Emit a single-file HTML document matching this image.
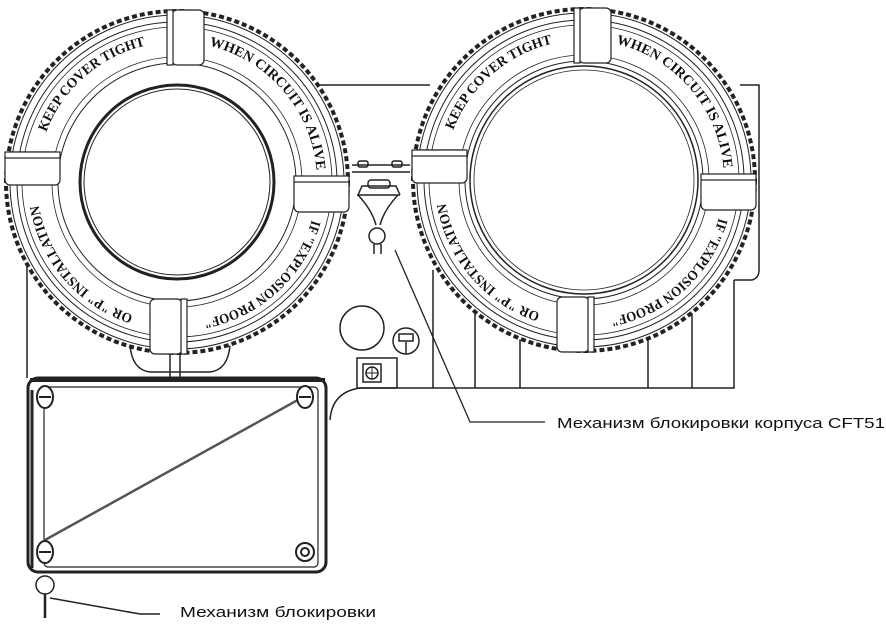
<!DOCTYPE html>
<html><head><meta charset="utf-8"><style>
html,body{margin:0;padding:0;background:#fff;}
svg{display:block}
.t{font-family:"Liberation Serif",serif;font-weight:bold;font-size:14px;fill:#111}
.l{font-family:"Liberation Sans","DejaVu Sans",sans-serif;font-size:15px;fill:#111}
</style></head><body>
<svg width="886" height="626" viewBox="0 0 886 626" xmlns="http://www.w3.org/2000/svg">
<defs>
<path id="c1" d="M37,182 A140,140 0 1 1 317,182 A140,140 0 1 1 37,182"/>
<path id="c2" d="M444,180 A140,140 0 1 1 724,180 A140,140 0 1 1 444,180"/>
<g id="ring" fill="none" stroke="#222">
  <circle r="171" stroke-width="4" stroke-dasharray="5 3"/>
  <circle r="167" stroke-width="1"/>
  <circle r="160" stroke-width="1"/>
  <circle r="155" stroke-width="0.8"/>
  <circle r="125" stroke-width="0.8"/>
  <circle r="119" stroke-width="1"/>
  <g fill="#fff" stroke-width="1.2">
    <rect x="-5" y="-172" width="32" height="55" rx="5"/>
    <rect x="-10" y="-172" width="6" height="55"/>
    <rect x="-172" y="-30" width="55" height="33" rx="5"/>
    <rect x="-172" y="-30" width="55" height="6"/>
    <rect x="117" y="-3" width="55" height="33" rx="5"/>
    <rect x="117" y="-6" width="55" height="6"/>
    <rect x="-27" y="117" width="32" height="55" rx="5"/>
    <rect x="4" y="117" width="6" height="55"/>
  </g>
</g>
</defs>
<g fill="none" stroke="#222" stroke-width="1.5">
  <path d="M300,85 H430"/>
  <path d="M740,85 H759 V270 Q759,278 752,280 H734"/>
  <path d="M27,250 V378"/>
  <path d="M433,270 V388 H734 V280"/>
  <path d="M475,290 V388 M520,330 V388 M648,330 V388 M692,300 V388"/>
  <path d="M330,420 Q332,392 360,388 H433"/>
  <circle cx="362" cy="328" r="22"/>
  <circle cx="406" cy="341" r="13"/>
  <rect x="399" y="334" width="14" height="7"/>
  <path d="M406,342 V354"/>
  <rect x="357" y="358" width="40" height="30"/>
  <rect x="363" y="364" width="18" height="18"/>
  <circle cx="372" cy="373" r="6"/>
  <path d="M372,367 V379 M366,373 H378" stroke-width="1"/>
  <path d="M358,195 Q372,210 376,225 M398,195 Q384,210 380,225"/>
  <circle cx="377" cy="236" r="8"/>
  <path d="M374,244 V254 M381,244 V254"/>
  <path d="M130,345 Q132,370 150,372 H210 Q228,370 230,345"/>
  <path d="M170,350 V378 M180,350 V378"/>
</g>
<g transform="translate(177,182)"><circle r="172" fill="#fff"/><use href="#ring"/>
<circle r="97" fill="#fff" stroke="#222" stroke-width="3"/><circle r="93" fill="none" stroke="#222" stroke-width="1"/></g>
<g transform="translate(584,180)"><circle r="172" fill="#fff"/><use href="#ring"/>
<circle r="114" fill="#fff" stroke="#222" stroke-width="1.5"/><circle r="110" fill="none" stroke="#222" stroke-width="0.8"/></g>
<g fill="none" stroke="#222" stroke-width="1.5">
  <path d="M352,165 H410 M352,172 H410 M357,195 H400"/>
  <rect x="358" y="161" width="10" height="6" rx="2"/><rect x="392" y="161" width="10" height="6" rx="2"/>
  <rect x="368" y="180" width="22" height="8" rx="3"/>
  <path d="M358,195 L362,186 H396 L400,195"/>
</g>
<text class="t"><textPath href="#c1" startOffset="51" textLength="137" lengthAdjust="spacingAndGlyphs">KEEP COVER TIGHT</textPath></text>
<text class="t"><textPath href="#c1" startOffset="252" textLength="176" lengthAdjust="spacingAndGlyphs">WHEN CIRCUIT IS ALIVE</textPath></text>
<text class="t"><textPath href="#c1" startOffset="478" textLength="155" lengthAdjust="spacingAndGlyphs">IF "EXPLOSION PROOF"</textPath></text>
<text class="t"><textPath href="#c1" startOffset="704" textLength="152" lengthAdjust="spacingAndGlyphs">OR "P" INSTALLATION</textPath></text>
<text class="t"><textPath href="#c2" startOffset="51" textLength="137" lengthAdjust="spacingAndGlyphs">KEEP COVER TIGHT</textPath></text>
<text class="t"><textPath href="#c2" startOffset="252" textLength="176" lengthAdjust="spacingAndGlyphs">WHEN CIRCUIT IS ALIVE</textPath></text>
<text class="t"><textPath href="#c2" startOffset="478" textLength="155" lengthAdjust="spacingAndGlyphs">IF "EXPLOSION PROOF"</textPath></text>
<text class="t"><textPath href="#c2" startOffset="704" textLength="152" lengthAdjust="spacingAndGlyphs">OR "P" INSTALLATION</textPath></text>
<g fill="none" stroke="#222">
  <rect x="28" y="378" width="298" height="194" rx="10" stroke-width="3"/>
  <rect x="44" y="387" width="274" height="180" rx="4" stroke-width="1.2"/>
  <path d="M30,380 H325" stroke-width="4"/>
  <path d="M32,390 V568" stroke-width="3"/>
  <path d="M305,396 L45,540" stroke-width="2.5" stroke="#555"/>
  <g stroke-width="2" fill="#fff">
    <ellipse cx="45" cy="397" rx="8" ry="11"/><ellipse cx="305" cy="397" rx="8" ry="11"/>
    <ellipse cx="45" cy="552" rx="8" ry="11"/><circle cx="305" cy="552" r="9"/><circle cx="305" cy="552" r="4"/>
  </g>
  <path d="M39,397 H51 M299,397 H311 M39,552 H51" stroke-width="2"/>
  <circle cx="45" cy="585" r="9" stroke-width="1.5"/>
  <path d="M45,594 V618" stroke-width="2.5"/>
  <path d="M50,598 L140,614 H160" stroke-width="1.5"/>
  <path d="M395,250 L470,422 H545" stroke-width="1.3"/>
</g>
<text class="l" x="557" y="428" textLength="328" lengthAdjust="spacingAndGlyphs">Механизм блокировки корпуса CFT51</text>
<text class="l" x="180" y="617" textLength="196" lengthAdjust="spacingAndGlyphs">Механизм блокировки</text>
</svg>
</body></html>
